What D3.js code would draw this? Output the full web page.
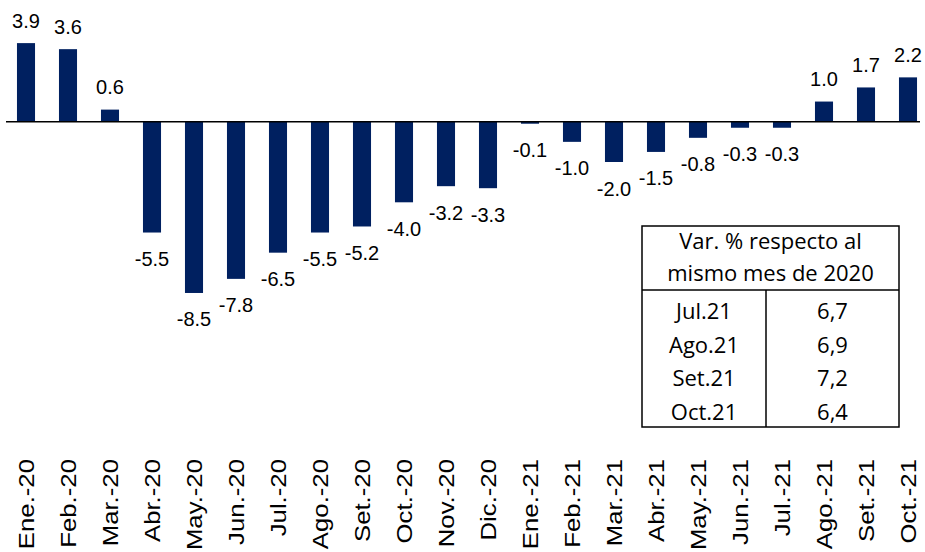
<!DOCTYPE html>
<html>
<head>
<meta charset="utf-8">
<script src="https://cdn.jsdelivr.net/npm/d3@7"></script>
<style>
  body { margin: 0; background: #fff; }
  svg { display: block; }
</style>
</head>
<body>
<div id="chart"></div>
<script>
// monthly values
let months = ["Ene.-20", "Feb.-20", "Mar.-20", "Abr.-20", "May.-20", "Jun.-20", "Jul.-20", "Ago.-20",
  "Set.-20", "Oct.-20", "Nov.-20", "Dic.-20", "Ene.-21", "Feb.-21", "Mar.-21", "Abr.-21",
  "May.-21", "Jun.-21", "Jul.-21", "Ago.-21", "Set.-21", "Oct.-21"];
let values = [3.9, 3.6, 0.6, -5.5, -8.5, -7.8, -6.5, -5.5, -5.2, -4.0, -3.2, -3.3,
  -0.1, -1.0, -2.0, -1.5, -0.8, -0.3, -0.3, 1.0, 1.7, 2.2];

// inset table
let tableHeader = ["Var. % respecto al", "mismo mes de 2020"];
let tableMonths = ["Jul.21", "Ago.21", "Set.21", "Oct.21"];
let tableValues = ["6,7", "6,9", "7,2", "6,4"];

let width = 925, height = 552;
let barColor = "#002060";

let svg = d3.select("#chart")
  .append("svg")
    .attr("width", width)
    .attr("height", height);

let x = d3.scaleBand()
  .domain(months)
  .range([5, 929])
  .paddingInner(0.57)
  .paddingOuter(0.285);

let y = d3.scaleLinear()
  .domain([-10, 4])
  .range([323.2, 41.1]);

// bars
svg.append("g")
  .selectAll("rect")
  .data(values)
  .join("rect")
    .attr("x", (d, i) => x(months[i]))
    .attr("y", d => y(Math.max(0, d)))
    .attr("width", x.bandwidth())
    .attr("height", d => Math.abs(y(d) - y(0)))
    .attr("fill", barColor);

// zero line
svg.append("line")
  .attr("x1", 6)
  .attr("x2", 920)
  .attr("y1", y(0))
  .attr("y2", y(0))
  .attr("stroke", "#000")
  .attr("stroke-width", 1.5);

// value labels
svg.append("g")
  .selectAll("text")
  .data(values)
  .join("text")
    .attr("x", (d, i) => x(months[i]) + x.bandwidth() / 2)
    .attr("y", d => d >= 0 ? y(d) - 15.5 : y(d) + 33.5)
    .attr("text-anchor", "middle")
    .style("font-family", "'Liberation Sans', Arial, sans-serif")
    .style("font-size", "20px")
    .attr("fill", "#000")
    .text(d => d.toFixed(1));

// category labels, rotated (slightly stretched like the original)
svg.append("g")
  .selectAll("text")
  .data(months)
  .join("text")
    .attr("transform", d => "translate(" + (x(d) + x.bandwidth() / 2 + 7.5) + ",459) rotate(-90) scale(1.12,1)")
    .attr("text-anchor", "end")
    .style("font-family", "'Liberation Sans', Arial, sans-serif")
    .style("font-size", "23px")
    .attr("fill", "#000")
    .text(d => d);

// table
let tb = {left: 642, right: 899, top: 226, bottom: 427, head: 290, mid: 766};
let tg = svg.append("g");
tg.append("rect")
  .attr("x", tb.left)
  .attr("y", tb.top)
  .attr("width", tb.right - tb.left)
  .attr("height", tb.bottom - tb.top)
  .attr("fill", "#fff")
  .attr("stroke", "#000")
  .attr("stroke-width", 1.5);
tg.append("line")
  .attr("x1", tb.left).attr("x2", tb.right)
  .attr("y1", tb.head).attr("y2", tb.head)
  .attr("stroke", "#000").attr("stroke-width", 1.5);
tg.append("line")
  .attr("x1", tb.mid).attr("x2", tb.mid)
  .attr("y1", tb.head).attr("y2", tb.bottom)
  .attr("stroke", "#000").attr("stroke-width", 1.5);

let tableFont = "'Open Sans', 'Noto Sans', sans-serif";
tg.selectAll("text.head")
  .data(tableHeader)
  .join("text")
    .attr("class", "head")
    .attr("x", (tb.left + tb.right) / 2)
    .attr("y", (d, i) => 249 + i * 31.5)
    .attr("text-anchor", "middle")
    .style("font-family", tableFont)
    .style("font-size", "22px")
    .text(d => d);

tg.selectAll("text.mon")
  .data(tableMonths)
  .join("text")
    .attr("class", "mon")
    .attr("x", (tb.left + tb.mid) / 2)
    .attr("y", (d, i) => 319 + i * 33.7)
    .attr("text-anchor", "middle")
    .style("font-family", tableFont)
    .style("font-size", "22px")
    .text(d => d);

tg.selectAll("text.val")
  .data(tableValues)
  .join("text")
    .attr("class", "val")
    .attr("x", (tb.mid + tb.right) / 2)
    .attr("y", (d, i) => 319 + i * 33.7)
    .attr("text-anchor", "middle")
    .style("font-family", tableFont)
    .style("font-size", "22px")
    .text(d => d);
</script>
</body>
</html>
